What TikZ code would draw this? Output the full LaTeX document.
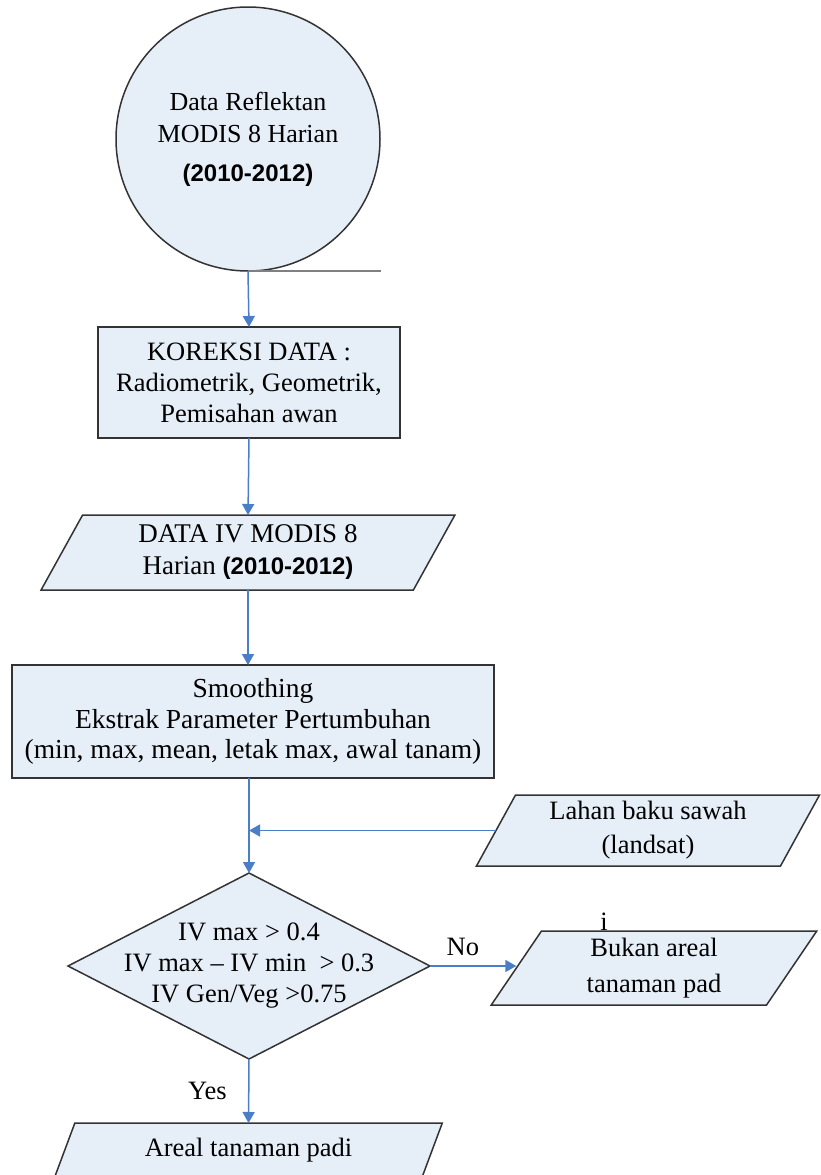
\documentclass[tikz,border=0pt]{standalone}
\usepackage{fontspec}
\setmainfont{Liberation Serif}
\setsansfont{Liberation Sans}
\usetikzlibrary{shapes.geometric,arrows.meta}
\definecolor{isian}{HTML}{E6EEF7}
\definecolor{garis}{HTML}{333333}
\definecolor{panah}{HTML}{4A7EC8}
\newcommand{\tahun}{{\sffamily\bfseries\fontsize{24}{31}\selectfont (2010-2012)}}
\tikzset{
    kotak/.style={draw=garis, line width=1.5pt, fill=isian, align=center, inner sep=0pt, outer sep=0pt},
    jajar/.style={kotak, trapezium, trapezium left angle=63.4, trapezium right angle=116.6, trapezium stretches=true},
    panahbiru/.style={draw=panah, line width=1.5pt, -{Triangle[width=12pt,length=11pt]}}
}
\begin{document}
\begin{tikzpicture}[x=1pt,y=-1pt,font=\fontsize{26.5}{31}\selectfont]
    \useasboundingbox (0,0) rectangle (820,1175);

    % Data awal
    \node[kotak, circle, minimum size=264pt, font=\fontsize{26}{32}\selectfont] (data) at (248,139) {Data Reflektan\\MODIS 8 Harian\\[7pt]\tahun};
    \coordinate (ujung) at (381,271);
    \draw[draw=gray, line width=2pt] (data.south) -- (ujung);

    % Koreksi dan data IV
    \node[kotak, minimum width=302pt, minimum height=111pt] (koreksi) at (249,382.5) {KOREKSI DATA :\\Radiometrik, Geometrik,\\Pemisahan awan};
    \node[jajar, minimum width=414pt, minimum height=75pt, font=\fontsize{27}{32}\selectfont] (ivdata) at (248,552.5) {DATA IV MODIS 8\\Harian \tahun};
    \node[kotak, minimum width=482pt, minimum height=113pt, font=\fontsize{27.5}{30.5}\selectfont] (smooth) at (253,721.5) {Smoothing\\Ekstrak Parameter Pertumbuhan\\(min, max, mean, letak max, awal tanam)};

    % Lahan baku
    \node[jajar, minimum width=344pt, minimum height=71pt, font=\fontsize{26.5}{34}\selectfont] (lahan) at (648,830.5) {Lahan baku sawah\\(landsat)};

    % Keputusan
    \node[kotak, diamond, minimum width=362pt, minimum height=186pt] (cek) at (249,966) {};
    \node[align=center] (cekteks) at (cek) {IV max > 0.4\\IV max – IV min~~> 0.3\\IV Gen/Veg >0.75};

    % Hasil
    \node[jajar, minimum width=326pt, minimum height=74pt, font=\fontsize{26.5}{36}\selectfont] (bukan) at (654,968) {Bukan areal\\tanaman pad};
    \node[inner sep=0pt] (huruf) at (604,922) {i};
    \node[jajar, minimum width=389pt, minimum height=54pt] (areal) at (248.5,1150) {Areal tanaman padi};

    % Panah
    \draw[panahbiru] (data.south) -- (koreksi.north);
    \draw[panahbiru] (koreksi.south) -- (ivdata.north);
    \draw[panahbiru] (ivdata.south) -- (ivdata.south |- smooth.north);
    \draw[panahbiru] (cek.north |- smooth.south) -- (cek.north);
    \draw[panahbiru] (lahan.west) -- (lahan.west -| cek.north);
    \draw[panahbiru] (cek.east) -- node[above=6pt, pos=0.38] (tidak) {No} (bukan.west |- cek.east);
    \draw[panahbiru] (cek.south) -- node[left=18pt] (ya) {Yes} (areal.north);
\end{tikzpicture}
\end{document}
